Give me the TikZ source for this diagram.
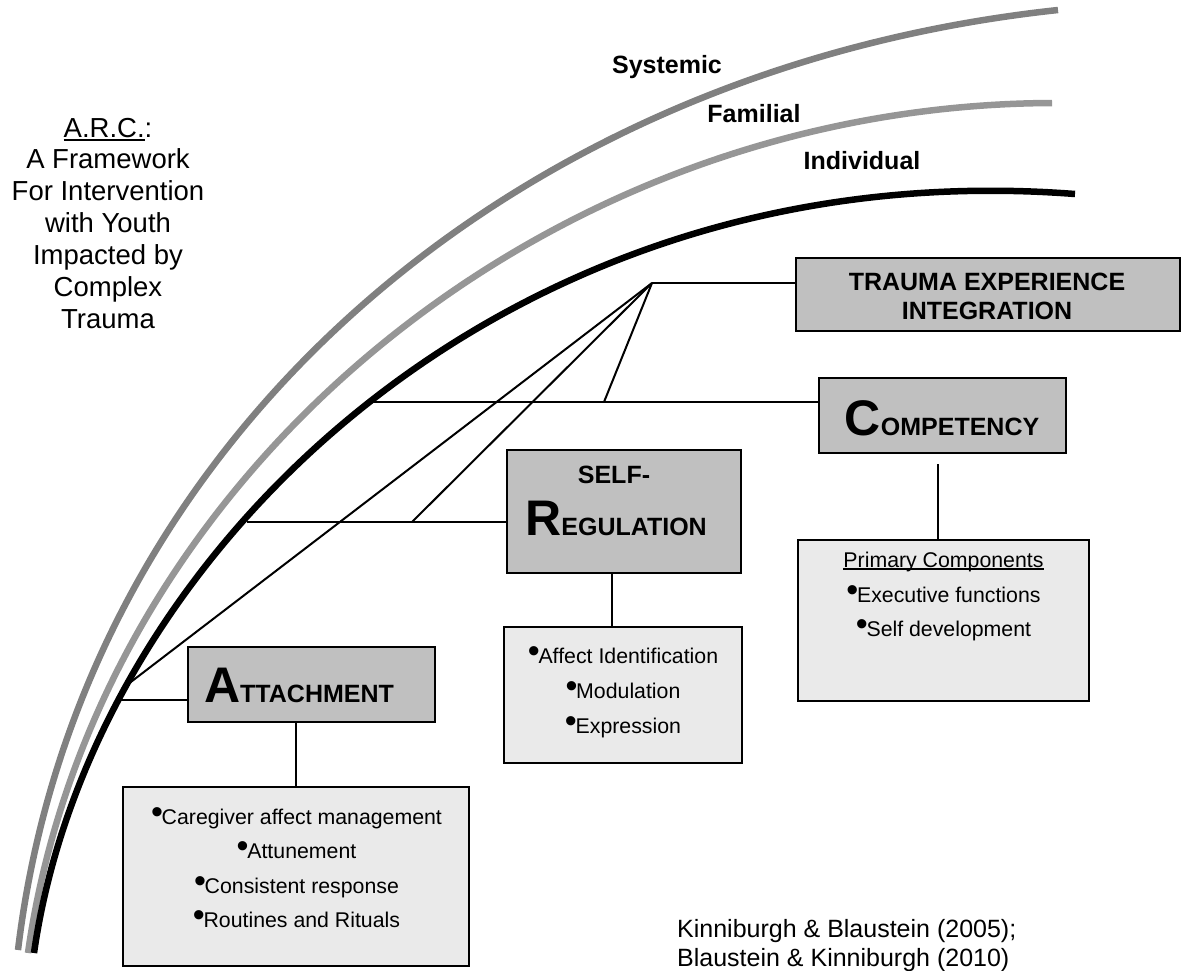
\documentclass[tikz,border=0pt]{standalone}
\usepackage{fontspec}
\usepackage{graphicx}
\setmainfont{Liberation Sans}
\definecolor{sysgray}{HTML}{808080}
\definecolor{famgray}{HTML}{969696}
\definecolor{headgray}{HTML}{C0C0C0}
\definecolor{listgray}{HTML}{EAEAEA}
\newcommand{\bul}{\raisebox{0.04em}{\scalebox{1.6}{\textbullet}}\hspace{-0.06em}}
\newcommand{\bigsc}[2]{{\fontsize{50}{50}\selectfont #1}{\fontsize{25}{25}\selectfont #2}}
\newsavebox{\ulbox}
\newcommand{\myul}[1]{\sbox{\ulbox}{#1}\rlap{\rule[-0.13em]{\wd\ulbox}{0.07em}}\usebox{\ulbox}}
\begin{document}
\begin{tikzpicture}[x=1pt,y=-1pt,
  layer/.style={line width=6.5pt},
  conn/.style={line width=2pt},
  headbox/.style={draw, line width=2pt, fill=headgray, inner sep=0pt},
  listbox/.style={draw, line width=2pt, fill=listgray, inner sep=0pt},
  headtxt/.style={anchor=base, font=\bfseries, inner sep=0pt},
  smallhead/.style={anchor=base, font=\bfseries\fontsize{25}{25}\selectfont, inner sep=0pt},
  listtxt/.style={anchor=base, font=\fontsize{21.3}{21.3}\selectfont, inner sep=0pt},
  titletxt/.style={anchor=base, font=\fontsize{27.5}{27.5}\selectfont, inner sep=0pt},
  layertxt/.style={anchor=base, font=\bfseries\fontsize{25}{25}\selectfont, inner sep=0pt},
  citetxt/.style={anchor=base west, font=\fontsize{25}{25}\selectfont, inner sep=0pt}]
\useasboundingbox (0,0) rectangle (1186,970);

% the three layers
\draw[layer, sysgray] (18,950) .. controls (78,450) and (500,70) .. (1058,10);
\draw[layer, famgray] (28,953) .. controls (95,480) and (540,105) .. (1052,103);
\draw[layer, black] (34,953) .. controls (90,560) and (500,150) .. (1075,194);

\node[layertxt] (lsys) at (667,73) {Systemic};
\node[layertxt] (lfam) at (754,122) {Familial};
\node[layertxt] (lind) at (862,169) {Individual};

% title
\node[titletxt] (t1) at (108,137) {\myul{A.R.C.}:};
\node[titletxt] (t2) at (108,168) {A Framework};
\node[titletxt] (t3) at (108,200) {For Intervention};
\node[titletxt] (t4) at (108,232) {with Youth};
\node[titletxt] (t5) at (108,264) {Impacted by};
\node[titletxt] (t6) at (108,296) {Complex};
\node[titletxt] (t7) at (108,328) {Trauma};

% boxes
\node[headbox, minimum width=384pt, minimum height=73pt] (tei) at (988,294.5) {};
\node[headbox, minimum width=247pt, minimum height=75pt] (comp) at (942.5,415.5) {};
\node[listbox, minimum width=291pt, minimum height=161pt] (complist) at (943.5,620.5) {};
\node[headbox, minimum width=234pt, minimum height=123pt] (sr) at (624,511.5) {};
\node[listbox, minimum width=238pt, minimum height=136pt] (srlist) at (623,695) {};
\node[headbox, minimum width=247pt, minimum height=75pt] (att) at (311.5,684.5) {};
\node[listbox, minimum width=346pt, minimum height=179pt] (attlist) at (296,876.5) {};

% box titles
\node[smallhead] (teit1) at (987,290) {TRAUMA EXPERIENCE};
\node[smallhead] (teit2) at (987,319) {INTEGRATION};
\node[headtxt] (compt) at (942,435) {\bigsc{C}{OMPETENCY}};
\node[smallhead] (srt1) at (614,483) {SELF-};
\node[headtxt] (srt2) at (616,535) {\bigsc{R}{EGULATION}};
\node[headtxt] (attt) at (299,702) {\bigsc{A}{TTACHMENT}};

% lists
\node[listtxt] (a1) at (296.5,824) {\bul Caregiver affect management};
\node[listtxt] (a2) at (296.5,858) {\bul Attunement};
\node[listtxt] (a3) at (296.5,893) {\bul Consistent response};
\node[listtxt] (a4) at (296.5,927) {\bul Routines and Rituals};

\node[listtxt] (s1) at (623,663) {\bul Affect Identification};
\node[listtxt] (s2) at (623,698) {\bul Modulation};
\node[listtxt] (s3) at (623,733) {\bul Expression};

\node[listtxt] (c0) at (943.5,567) {\myul{Primary Components}};
\node[listtxt] (c1) at (943.5,602) {\bul Executive functions};
\node[listtxt] (c2) at (943.5,636) {\bul Self development};

% citation
\node[citetxt] (cite1) at (677,937) {Kinniburgh \& Blaustein (2005);};
\node[citetxt] (cite2) at (677,966) {Blaustein \& Kinniburgh (2010)};

% connectors
\coordinate (hub) at (652,283);
\coordinate (attcurve) at (120,700);
\coordinate (attdiag) at (123,688);
\coordinate (srcurve) at (247,522);
\coordinate (srjoin) at (412,522);
\coordinate (compcurve) at (365,402);
\coordinate (compjoin) at (604,402);

\draw[conn] (attcurve) -- (att.west |- attcurve);
\draw[conn] (attdiag) -- (hub);
\draw[conn] (srcurve) -- (sr.west |- srcurve);
\draw[conn] (srjoin) -- (hub);
\draw[conn] (compcurve) -- (comp.west |- compcurve);
\draw[conn] (compjoin) -- (hub);
\draw[conn] (hub) -- (tei.west |- hub);
\draw[conn] (att.south -| attlist.north) -- (attlist.north);
\draw[conn] ([xshift=-11pt]srlist.north) -- ([xshift=-11pt]srlist.north |- sr.south);
\draw[conn] ([xshift=-5.5pt]complist.north) -- ++(0,-75);
\end{tikzpicture}
\end{document}
